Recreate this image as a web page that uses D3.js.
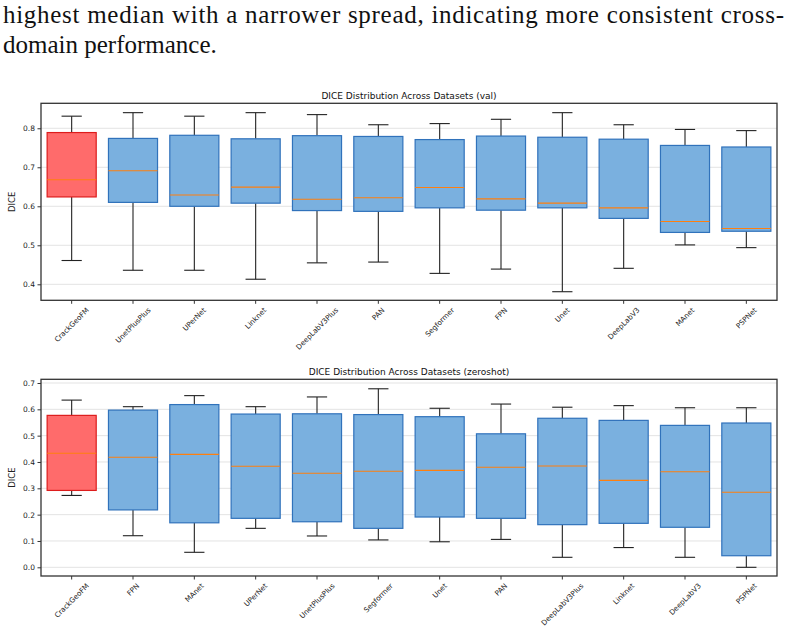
<!DOCTYPE html>
<html>
<head>
<meta charset="utf-8">
<script src="https://cdn.jsdelivr.net/npm/d3@7"></script>
<style>
  body { margin: 0; background: #fff; }
  svg { display: block; }
  .para { font-family: "Liberation Serif", "DejaVu Serif", "Times New Roman", serif; }
</style>
</head>
<body>
<svg id="page" width="791" height="635"></svg>
<script>
// values: [whiskerLow, q1, median, q3, whiskerHigh]
var valModels = ["CrackGeoFM", "UnetPlusPlus", "UPerNet", "Linknet", "DeepLabV3Plus", "PAN",
                 "Segformer", "FPN", "Unet", "DeepLabV3", "MAnet", "PSPNet"];
var valStats = [
  [0.461, 0.624, 0.668, 0.789, 0.831],
  [0.436, 0.610, 0.691, 0.774, 0.840],
  [0.436, 0.600, 0.629, 0.782, 0.831],
  [0.413, 0.608, 0.649, 0.773, 0.840],
  [0.455, 0.589, 0.618, 0.781, 0.835],
  [0.457, 0.587, 0.622, 0.779, 0.809],
  [0.428, 0.596, 0.648, 0.771, 0.812],
  [0.439, 0.590, 0.619, 0.780, 0.823],
  [0.381, 0.596, 0.608, 0.777, 0.840],
  [0.441, 0.569, 0.596, 0.772, 0.809],
  [0.501, 0.533, 0.561, 0.756, 0.797],
  [0.494, 0.536, 0.543, 0.752, 0.794]
];
var valTicks = [0.4, 0.5, 0.6, 0.7, 0.8];

var zsModels = ["CrackGeoFM", "FPN", "MAnet", "UPerNet", "UnetPlusPlus", "Segformer",
                "Unet", "PAN", "DeepLabV3Plus", "Linknet", "DeepLabV3", "PSPNet"];
var zsStats = [
  [0.273, 0.292, 0.433, 0.577, 0.635],
  [0.120, 0.218, 0.418, 0.597, 0.610],
  [0.057, 0.169, 0.429, 0.618, 0.652],
  [0.148, 0.186, 0.384, 0.582, 0.610],
  [0.119, 0.173, 0.357, 0.583, 0.647],
  [0.104, 0.148, 0.365, 0.580, 0.678],
  [0.097, 0.191, 0.368, 0.572, 0.604],
  [0.106, 0.186, 0.380, 0.507, 0.620],
  [0.038, 0.162, 0.385, 0.566, 0.608],
  [0.075, 0.167, 0.330, 0.558, 0.614],
  [0.038, 0.152, 0.363, 0.539, 0.606],
  [0.000, 0.044, 0.285, 0.548, 0.606]
];
var zsTicks = [0.0, 0.1, 0.2, 0.3, 0.4, 0.5, 0.6, 0.7];

var svg = d3.select("#page");

// paragraph text above the figure
svg.append("text")
    .attr("class", "para")
    .attr("x", 3).attr("y", 23)
    .attr("font-size", 25)
    .attr("textLength", 781)
    .attr("lengthAdjust", "spacing")
    .attr("fill", "#111")
    .text("highest median with a narrower spread, indicating more consistent cross-");
svg.append("text")
    .attr("class", "para")
    .attr("x", 3).attr("y", 53)
    .attr("font-size", 25)
    .attr("fill", "#111")
    .text("domain performance.");

function drawPanel(opts) {
  var left = 41, right = 777;
  var g = svg.append("g").attr("font-family", "'DejaVu Sans', sans-serif");

  var x = d3.scaleBand().domain(opts.models).range([left, right]);
  var y = d3.scaleLinear().domain(opts.domain).range([opts.bottom, opts.top]);
  var bw = x.bandwidth() * 0.8, cw = x.bandwidth() * 0.33;

  // grid
  g.append("g").selectAll("line")
    .data(opts.ticks)
    .enter().append("line")
      .attr("x1", left).attr("x2", right)
      .attr("y1", function(d) { return y(d); })
      .attr("y2", function(d) { return y(d); })
      .attr("stroke", "#e3e3e3").attr("stroke-width", 1);

  var box = g.append("g").selectAll("g")
    .data(opts.stats)
    .enter().append("g")
      .attr("transform", function(d, i) { return "translate(" + (x(opts.models[i]) + x.bandwidth() / 2) + ",0)"; });

  // whiskers + caps
  box.append("line")
      .attr("y1", function(d) { return y(d[0]); })
      .attr("y2", function(d) { return y(d[1]); })
      .attr("stroke", "#222").attr("stroke-width", 1.1);
  box.append("line")
      .attr("y1", function(d) { return y(d[3]); })
      .attr("y2", function(d) { return y(d[4]); })
      .attr("stroke", "#222").attr("stroke-width", 1.1);
  box.selectAll(".cap")
    .data(function(d) { return [d[0], d[4]]; })
    .enter().append("line")
      .attr("class", "cap")
      .attr("x1", -cw / 2).attr("x2", cw / 2)
      .attr("y1", function(v) { return y(v); })
      .attr("y2", function(v) { return y(v); })
      .attr("stroke", "#222").attr("stroke-width", 1.1);

  box.append("rect")
      .attr("x", -bw / 2).attr("width", bw)
      .attr("y", function(d) { return y(d[3]); })
      .attr("height", function(d) { return y(d[1]) - y(d[3]); })
      .attr("fill", function(d, i) { return i == 0 ? "#ff6b6b" : "#7ab0df"; })
      .attr("stroke", function(d, i) { return i == 0 ? "#dd1c1c" : "#3072bb"; })
      .attr("stroke-width", 1.2);

  box.append("line")
      .attr("x1", -bw / 2).attr("x2", bw / 2)
      .attr("y1", function(d) { return y(d[2]); })
      .attr("y2", function(d) { return y(d[2]); })
      .attr("stroke", "#ff7f0e").attr("stroke-width", 1.1);

  // frame
  g.append("rect")
      .attr("x", left).attr("y", opts.top)
      .attr("width", right - left).attr("height", opts.bottom - opts.top)
      .attr("fill", "none").attr("stroke", "#333").attr("stroke-width", 1.3);

  // y axis
  var ya = g.append("g")
      .attr("transform", "translate(" + left + ",0)")
      .call(d3.axisLeft(y).tickValues(opts.ticks).tickFormat(d3.format(".1f")).tickSizeOuter(0).tickSize(3.5).tickPadding(2.5));
  ya.select(".domain").remove();
  ya.selectAll("text").attr("font-size", 7.5).attr("fill", "#222").attr("font-family", "'DejaVu Sans', sans-serif");
  ya.selectAll("line").attr("stroke", "#333");

  // x axis ticks
  var xa = g.append("g")
      .attr("transform", "translate(0," + opts.bottom + ")")
      .call(d3.axisBottom(x).tickSize(3.5).tickSizeOuter(0));
  xa.select(".domain").remove();
  xa.selectAll("line").attr("stroke", "#333");
  xa.selectAll("text").remove();

  // rotated labels, bbox centred on tick
  g.append("g").selectAll("text")
    .data(opts.models)
    .enter().append("text")
      .attr("font-size", 7.2)
      .attr("fill", "#222")
      .attr("text-anchor", "middle")
      .attr("dy", "0.35em")
      .text(function(d) { return d; })
      .attr("transform", function(d) {
        var L = this.getComputedTextLength(), H = 7.2;
        var half = (L + H) / (2 * Math.SQRT2);
        var cx = x(d) + x.bandwidth() / 2;
        return "translate(" + cx + "," + (opts.bottom + 6 + half) + ") rotate(-45)";
      });

  g.append("text")
      .attr("transform", "translate(15," + ((opts.top + opts.bottom) / 2) + ") rotate(-90)")
      .attr("text-anchor", "middle")
      .attr("font-size", 8.5)
      .attr("fill", "#222")
      .text("DICE");

  g.append("text")
      .attr("x", (left + right) / 2)
      .attr("y", opts.top - 4.5)
      .attr("text-anchor", "middle")
      .attr("font-size", 9)
      .attr("fill", "#111")
      .text(opts.title);
}

drawPanel({
  models: valModels, stats: valStats, ticks: valTicks,
  domain: [0.359, 0.864], top: 103.3, bottom: 300.3,
  title: "DICE Distribution Across Datasets (val)"
});
drawPanel({
  models: zsModels, stats: zsStats, ticks: zsTicks,
  domain: [-0.033, 0.714], top: 379.3, bottom: 576,
  title: "DICE Distribution Across Datasets (zeroshot)"
});
</script>
</body>
</html>
